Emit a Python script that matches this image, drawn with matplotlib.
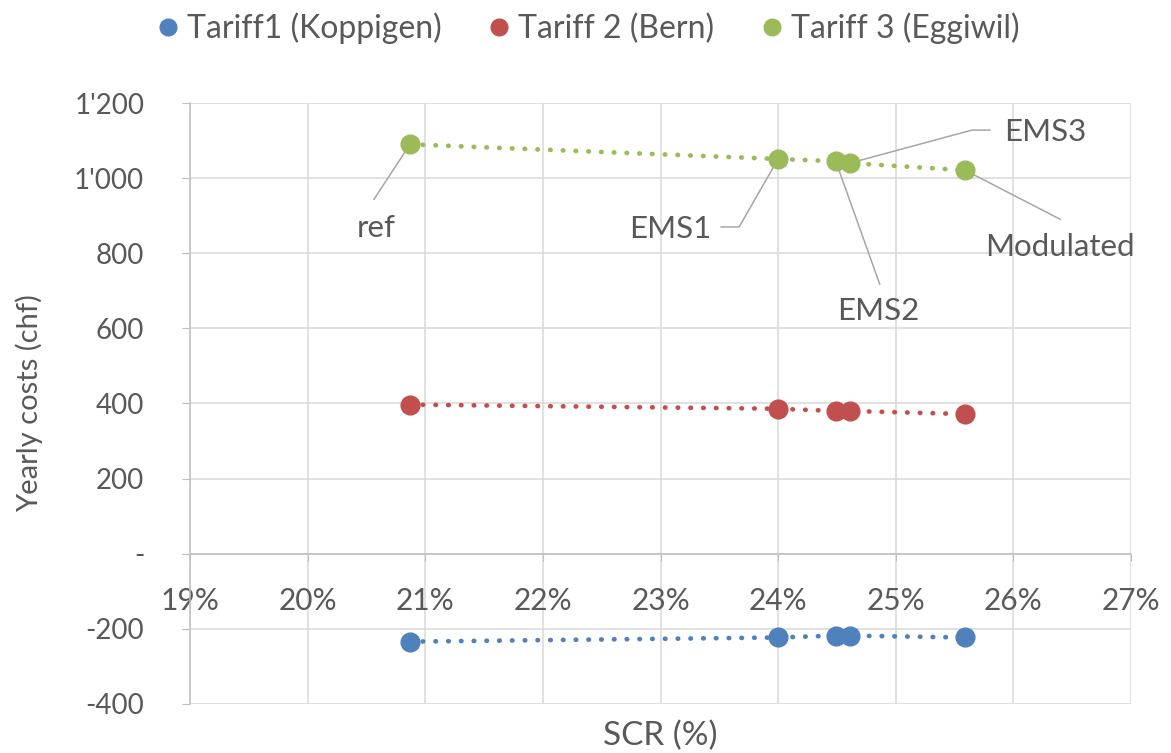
import numpy as np
import matplotlib
matplotlib.use("Agg")
import matplotlib.pyplot as plt
import matplotlib.transforms as mtransforms
from matplotlib.lines import Line2D
from matplotlib.ticker import FuncFormatter, MultipleLocator

plt.rcParams['font.family'] = ['Lato', 'DejaVu Sans']

# data
scr = [20.87, 24.0, 24.49, 24.61, 25.59]   # SCR in %
tariff1 = [-234, -223, -218, -218, -223]    # Koppigen
tariff2 = [397, 386, 380, 380, 372]         # Bern
tariff3 = [1090, 1051, 1045, 1040, 1021]    # Eggiwil
names = ["Tariff1 (Koppigen)", "Tariff 2 (Bern)", "Tariff 3 (Eggiwil)"]
point_labels = ["ref", "EMS1", "EMS2", "EMS3", "Modulated"]

colors = ["#4F81BD", "#C0504D", "#9BBB59"]
txt_col = "#595959"
grid_col = "#D9D9D9"

fig = plt.figure(figsize=(11.71, 7.53), dpi=100)
ax = fig.add_axes([0.1623, 0.0651, 0.9658 - 0.1623, 0.8632 - 0.0651])

for ys, c in zip([tariff1, tariff2, tariff3], colors):
	ax.plot(scr, ys, color=c, lw=3.4, ls=(0, (0.1, 2.6)), dash_capstyle='round', zorder=3)
	ax.plot(scr, ys, ls='none', marker='o', ms=13.5, color=c, mec=c, zorder=4)

ax.set_xlim(19, 27)
ax.set_ylim(-400, 1200)
ax.xaxis.set_major_locator(MultipleLocator(1))
ax.yaxis.set_major_locator(MultipleLocator(200))

def yfmt(v, pos):
	v = int(round(v))
	if v == 0:
		return "-"
	return "{:,}".format(v).replace(",", "'")

ax.yaxis.set_major_formatter(FuncFormatter(yfmt))
ax.xaxis.set_major_formatter(FuncFormatter(lambda v, p: "{:.0f}%".format(v)))

ax.grid(True, color=grid_col, lw=1.1, zorder=0)
ax.set_axisbelow(True)
for s in ['top', 'right']:
	ax.spines[s].set_visible(False)
ax.spines['bottom'].set_position(('data', 0))
ax.spines['bottom'].set_color("#BFBFBF")
ax.spines['left'].set_color("#BFBFBF")
ax.spines['bottom'].set_linewidth(1.1)
ax.spines['left'].set_linewidth(1.1)

ax.tick_params(axis='y', colors="#BFBFBF", labelcolor=txt_col, labelsize=20, length=6, pad=27)
ax.tick_params(axis='x', colors="#BFBFBF", labelcolor=txt_col, labelsize=21.5, length=5, pad=19)

ax.set_ylabel("Yearly costs (chf)", fontsize=21, color=txt_col)
ax.yaxis.set_label_coords(-0.156, 0.5)
ax.set_xlabel("SCR (%)", fontsize=24, color=txt_col)
ax.xaxis.set_label_coords(0.5, -0.027)

# data labels with leader lines, offsets in pixels from the point
label_geo = [
	([(-36, -55)], (-34, -84), 'center'),
	([(-39, -68), (-57, -68)], (-108, -70), 'center'),
	([(44, -123)], (43, -150), 'center'),
	([(122, 33), (140, 33)], (154, 31), 'left'),
	([(95, -49)], (95, -77), 'center'),
]
for x, y, lab, (path, tpos, ha) in zip(scr, tariff3, point_labels, label_geo):
	tr = fig.dpi_scale_trans + mtransforms.ScaledTranslation(x, y, ax.transData)
	px = [0] + [p[0] / 100.0 for p in path]
	py = [0] + [p[1] / 100.0 for p in path]
	ax.plot(px, py, color="#A6A6A6", lw=1.1, transform=tr, zorder=2, clip_on=False)
	ax.text(tpos[0] / 100.0, tpos[1] / 100.0, lab, transform=tr, ha=ha, va='center',
		fontsize=22.5, color=txt_col, clip_on=False)

handles = [Line2D([], [], ls='none', marker='o', ms=12, color=c) for c in colors]
fig.legend(handles, names, loc='center', bbox_to_anchor=(0.501, 0.962), ncol=3,
	frameon=False, fontsize=23, labelcolor=txt_col, handletextpad=0.15,
	columnspacing=1.35, handlelength=0.9)

fig.savefig("out.png", dpi=100)
